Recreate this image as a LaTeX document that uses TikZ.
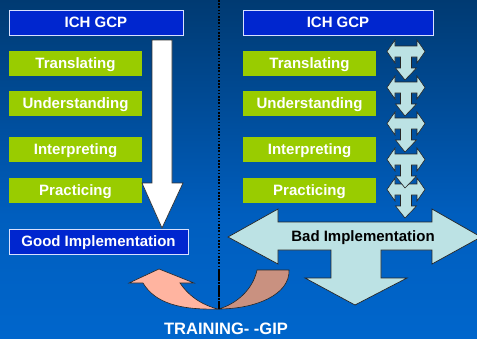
\documentclass[tikz,border=0pt]{standalone}
\usepackage{fontspec}
\setmainfont{Liberation Sans}
\begin{document}
\begin{tikzpicture}[x=1bp,y=-1bp,
  labelfont/.style={font=\bfseries\fontsize{15bp}{18bp}\selectfont, text height=10.7bp, text depth=0pt},
  boxtext/.style={labelfont, inner sep=0pt, minimum height=25bp},
  bluebox/.style={boxtext, fill=ichblue, draw=boxedge, line width=0.8bp, text=white},
  greenbox/.style={boxtext, fill=leafgreen, text=white},
  tarrow/.style={fill=paleaqua, draw=black!85, line width=0.6bp, line join=miter},
  bigarrow/.style={fill=paleaqua, draw=black!85, line width=0.7bp},
  whitearrow/.style={fill=white, draw=black!80, line width=0.7bp},
  salmon/.style={fill=salmonpink, draw=black!85, line width=0.6bp},
  brownish/.style={fill=dustyrose, draw=black!85, line width=0.6bp},
  divider/.style={draw=black, line width=1.6bp, dash pattern=on 1.6bp off 1.6bp}
]
\definecolor{navytop}{HTML}{003A72}
\definecolor{navymid}{HTML}{005EBE}
\definecolor{navybot}{HTML}{0066CC}
\definecolor{ichblue}{HTML}{0026CF}
\definecolor{boxedge}{HTML}{D8E0FF}
\definecolor{leafgreen}{HTML}{99CC00}
\definecolor{paleaqua}{HTML}{BCE2E4}
\definecolor{salmonpink}{HTML}{FFB4A0}
\definecolor{dustyrose}{HTML}{C99180}

\useasboundingbox (0,0) rectangle (477,338);
\clip (0,0) rectangle (477,338);
\shade[top color=navytop, bottom color=navymid] (0,0) rectangle (477,215);
\shade[top color=navymid, bottom color=navybot] (0,214.5) rectangle (477,338);

% divider
\draw[divider] (219,0) -- (219,309);

% left column
\node[bluebox, minimum width=174bp] (ichL) at (96,22.5) {ICH GCP};
\node[greenbox, minimum width=133bp] (trL) at (75.5,63.5) {Translating};
\node[greenbox, minimum width=133bp] (unL) at (75.5,103.3) {Understanding};
\node[greenbox, minimum width=133bp] (inL) at (75.5,149.3) {Interpreting};
\node[greenbox, minimum width=133bp] (prL) at (75.5,190.5) {Practicing};

% white down arrow
\draw[whitearrow] (152,40) -- (172,40) -- (172,183) -- (183,183) -- (162,228)
  -- (142,183) -- (152,183) -- cycle;

\node[bluebox, minimum width=179bp] (good) at (98.5,241.5) {Good Implementation};

% right column
\node[bluebox, minimum width=190bp] (ichR) at (338,22.5) {ICH GCP};
\node[greenbox, minimum width=133bp] (trR) at (309.5,63.5) {Translating};
\node[greenbox, minimum width=133bp] (unR) at (309.5,103.3) {Understanding};
\node[greenbox, minimum width=133bp] (inR) at (309.5,149.3) {Interpreting};
\node[greenbox, minimum width=133bp] (prR) at (309.5,190.5) {Practicing};

% T-shaped arrows
\foreach \yy in {178,148,112,76,40}{
  \draw[tarrow] ({406-19},{\yy+11.5}) -- ({406-11},\yy) -- ({406-11},{\yy+6})
    -- ({406+11},{\yy+6}) -- ({406+11},\yy) -- ({406+19},{\yy+11.5})
    -- ({406+11},{\yy+23}) -- ({406+11},{\yy+17}) -- ({406+5.5},{\yy+17})
    -- ({406+5.5},{\yy+28}) -- ({406+10.5},{\yy+28}) -- (405,{\yy+40})
    -- ({406-10.5},{\yy+28}) -- ({406-5.5},{\yy+28}) -- ({406-5.5},{\yy+17})
    -- ({406-11},{\yy+17}) -- ({406-11},{\yy+23}) -- cycle;
}

% big three-way arrow
\draw[bigarrow] (228,237) -- (278,209) -- (278,222) -- (432,222) -- (432,209)
  -- (481,237) -- (432,264) -- (432,250) -- (381,250) -- (381,278) -- (407,278)
  -- (355,305) -- (305,278) -- (331,278) -- (331,250) -- (278,250) -- (278,264) -- cycle;
\node[labelfont, text=black, inner sep=0pt] (bad) at (363,236.5) {Bad Implementation};

% curved arrows
\draw[brownish] (257,270) -- (289,270) .. controls (290,295) and (255,309) .. (218,309)
  .. controls (235,305) and (253,290) .. (257,270) -- cycle;
\draw[salmon] (218,309) .. controls (180,310) and (155,303) .. (143,283)
  -- (129,283) -- (159,269) -- (194,283) -- (180,283)
  .. controls (190,298) and (205,306) .. (218,309) -- cycle;

\draw[divider] (219,270) -- (219,309);

\node[font=\bfseries\fontsize{16.5bp}{19bp}\selectfont, text height=11.8bp, text depth=0pt, text=white, inner sep=0pt] (training) at (226,328.5) {TRAINING- -GIP};
\end{tikzpicture}
\end{document}
